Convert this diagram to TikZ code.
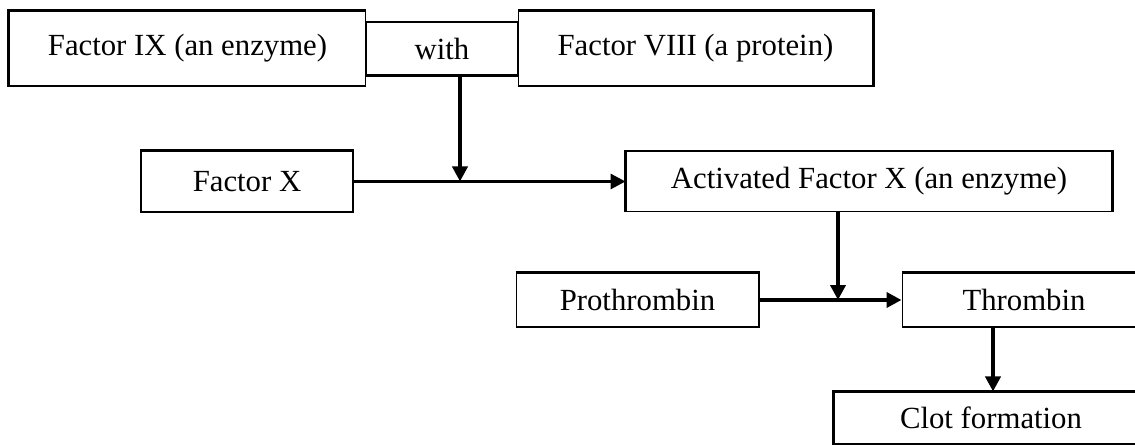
\documentclass[tikz,border=0pt]{standalone}
\usepackage{fontspec}
\setmainfont{Liberation Serif}
\usetikzlibrary{arrows.meta}

\begin{document}
\begin{tikzpicture}[x=0.02cm,y=-0.02cm,
    box/.style={draw,line width=0.6pt,inner sep=0pt,font=\fontsize{17.5}{20}\selectfont},
    rim/.style={line width=1.4pt},
    flow/.style={line width=2.3pt,-{Triangle[length=0.3cm,width=0.3cm]}},
    thinflow/.style={line width=1.7pt,-{Triangle[length=0.3cm,width=0.3cm]}}]
    \useasboundingbox (0,0) rectangle (1135,445);
    \clip (0,0) rectangle (1135,445);

    \node[box,minimum width=7.14cm,minimum height=1.5cm] (f9) at (187.5,48.5) {Factor IX (an enzyme)};
    \node[box,minimum width=3.04cm,minimum height=1.06cm] (with) at (442,48.5) {with};
    \node[box,minimum width=7.10cm,minimum height=1.5cm] (f8) at (695.5,48.5) {Factor VIII (a protein)};
    \node[box,minimum width=4.24cm,minimum height=1.22cm] (fx) at (247,181.5) {Factor X};
    \node[box,minimum width=9.72cm,minimum height=1.2cm] (afx) at (869,181.5) {Activated Factor X (an enzyme)};
    \node[box,minimum width=4.86cm,minimum height=1.08cm] (pro) at (637.5,300) {Prothrombin};
    \node[box,minimum width=4.88cm,minimum height=1.08cm] (thr) at (1024,300) {Thrombin};
    \node[box,minimum width=6.28cm,minimum height=1.04cm] (clot) at (991,418) {Clot formation};

    % heavier edges
    \draw[rim] (f9.south west) -- (f9.north west) -- (f9.north east);
    \draw[rim] (with.south west) -- (with.south east);
    \draw[rim] (f8.north west) -- (f8.north east) -- (f8.south east);
    \draw[rim] (fx.north west) -- (fx.north east);
    \draw[rim] (afx.south west) -- (afx.north west) -- (afx.north east) -- (afx.south east);
    \draw[rim] (pro.north west) -- (pro.north east);
    \draw[rim] (thr.north west) -- (thr.north east);
    \draw[rim] (clot.south west) -- (clot.north west) -- (clot.north east);

    \coordinate (ja) at (460,181.5);
    \coordinate (jb) at (838,300);
    \coordinate (jc) at (993,300);

    \draw[thinflow] (fx.east) -- (afx.west);
    \draw[flow] (with.south -| ja) -- (ja);
    \draw[flow,line width=2.6pt] (pro.east) -- (thr.west);
    \draw[flow] (afx.south -| jb) -- (jb);
    \draw[flow] (thr.south -| jc) -- (clot.north -| jc);
\end{tikzpicture}
\end{document}
